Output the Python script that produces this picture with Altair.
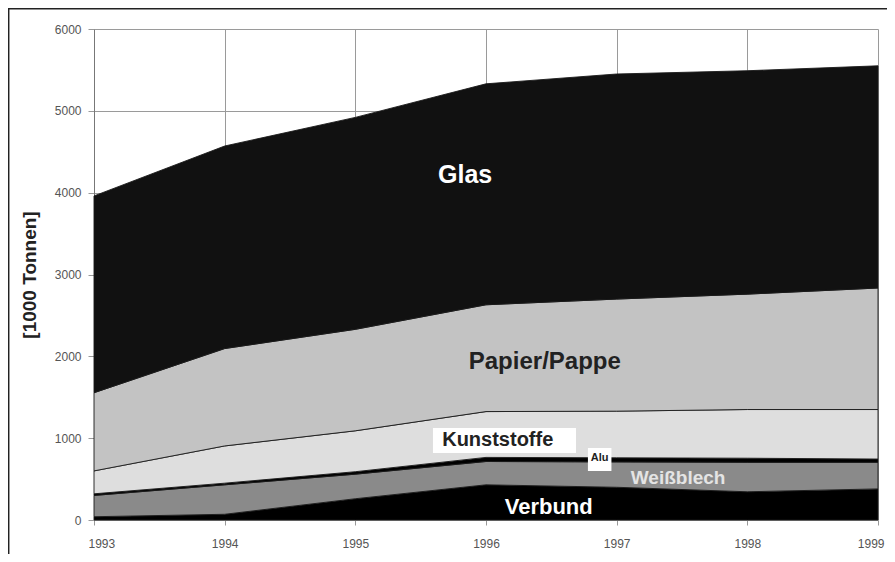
import altair as alt
import pandas as pd

years = [1993, 1994, 1995, 1996, 1997, 1998, 1999]
series = ["Verbund", "Weißblech", "Alu", "Kunststoffe", "Papier/Pappe", "Glas"]
verbund = [40, 70, 260, 430, 400, 345, 380]
weissblech = [260, 360, 300, 285, 310, 360, 325]
alu = [20, 20, 30, 50, 50, 50, 40]
kunststoffe = [280, 455, 500, 560, 570, 595, 605]
papier = [955, 1190, 1240, 1305, 1370, 1410, 1485]
glas = [2405, 2475, 2590, 2700, 2750, 2730, 2715]
colors = ["#000000", "#8a8a8a", "#000000", "#dedede", "#c3c3c3", "#111111"]

values = [verbund, weissblech, alu, kunststoffe, papier, glas]
rows = []
for i, (name, vals) in enumerate(zip(series, values)):
    for y, v in zip(years, vals):
        rows.append({"Jahr": y, "Menge": v, "Material": name, "ord": i})
df = pd.DataFrame(rows)

# label texts and their anchor in data coordinates
label_text = ["Glas", "Papier/Pappe", "Kunststoffe", "Alu", "Weißblech", "Verbund"]
label_x = [1995.84, 1996.45, 1996.09, 1996.87, 1997.47, 1996.48]
label_y = [4216, 1931, 978, 758, 513, 159]
label_color = ["white", "#222222", "#222222", "#222222", "#e4e4e4", "white"]
label_size = [25, 24, 20, 11, 19, 22]
labels = pd.DataFrame({"t": label_text, "x": label_x, "y": label_y,
                       "c": label_color, "s": label_size})

box_x = [1995.594, 1996.78]
box_x2 = [1996.689, 1996.96]
box_y = [1124, 880]
box_y2 = [819, 599]
boxes = pd.DataFrame({"x": box_x, "x2": box_x2, "y": box_y, "y2": box_y2})

xscale = alt.Scale(domain=[1993, 1999], nice=False, zero=False)
yscale = alt.Scale(domain=[0, 6000], nice=False)

area = alt.Chart(df).mark_area(stroke="#1a1a1a", strokeWidth=0.9, opacity=1).encode(
    x=alt.X("Jahr:Q", scale=xscale,
            axis=alt.Axis(values=years, format="d", title=None, grid=True,
                          gridColor="#9a9a9a", gridWidth=1, labelFontSize=12,
                          labelColor="#555555", labelFont="Liberation Sans",
                          labelFlush=True, labelFlushOffset=6,
                          tickColor="#999999", domain=False, labelPadding=13)),
    y=alt.Y("Menge:Q", stack="zero", scale=yscale,
            axis=alt.Axis(values=[0, 1000, 2000, 3000, 4000, 5000, 6000], format="d",
                          title="[1000 Tonnen]", grid=True, gridColor="#9a9a9a",
                          gridWidth=1, labelFontSize=12, labelColor="#555555",
                          labelFont="Liberation Sans", tickColor="#999999",
                          tickSize=6, domainColor="#777777", titleFont="Liberation Sans",
                          titleFontSize=19, titleFontWeight="bold",
                          titleColor="#222222", titlePadding=15, labelPadding=7)),
    color=alt.Color("Material:N", scale=alt.Scale(domain=series, range=colors), legend=None),
    order=alt.Order("ord:Q", sort="ascending"),
)

box = alt.Chart(boxes).mark_rect(color="white").encode(
    x=alt.X("x:Q", scale=xscale), x2="x2:Q",
    y=alt.Y("y:Q", scale=yscale), y2="y2:Q",
)

text = alt.Chart(labels).mark_text(font="Liberation Sans", fontWeight="bold").encode(
    x=alt.X("x:Q", scale=xscale),
    y=alt.Y("y:Q", scale=yscale),
    text="t:N",
    color=alt.Color("c:N", scale=None),
    size=alt.Size("s:Q", scale=None),
)

frame_top = alt.Chart(pd.DataFrame({"a": [0]})).mark_rule(color="#222222", strokeWidth=1.5).encode(
    x=alt.value(-86), x2=alt.value(820), y=alt.value(-20.3))
frame_left = alt.Chart(pd.DataFrame({"a": [0]})).mark_rule(color="#222222", strokeWidth=1.5).encode(
    x=alt.value(-85.3), y=alt.value(-21), y2=alt.value(540))

chart = alt.layer(area, box, text, frame_top, frame_left).properties(
    width=784, height=491,
    autosize=alt.AutoSizeParams(type="none"),
    padding={"left": 86, "top": 21, "right": 9, "bottom": 34},
).configure_view(stroke=None)

chart.save("out.html", embed_options={"renderer": "svg", "actions": False})
